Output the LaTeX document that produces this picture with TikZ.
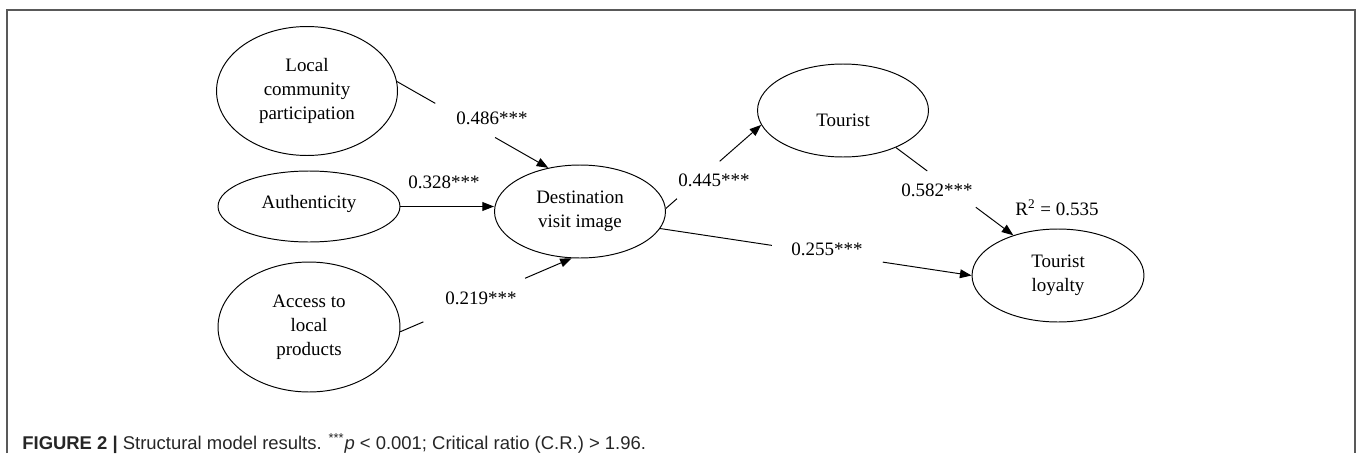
\documentclass[tikz,border=0pt]{standalone}
\usepackage{fontspec}
\setmainfont{Liberation Serif}
\newfontfamily\capfont{Liberation Sans}
\usepackage{tikz}
\usetikzlibrary{arrows.meta, shapes, positioning, calc}

\begin{document}
\begin{tikzpicture}[
    x=0.02cm, y=-0.02cm,
    every node/.style={font=\fontsize{10.8}{13.6}\selectfont},
    latent/.style={ellipse, draw, line width=0.55pt, inner sep=0pt, align=center},
    link/.style={line width=0.55pt},
    est/.style={link, -{Triangle[length=6.6pt, width=5pt]}},
    coef/.style={inner sep=0pt},
    frame/.style={draw=black!65, line width=0.85pt},
]
    \useasboundingbox (0,0) rectangle (1358,453);
    \draw[frame] (7,453) -- (7,10) -- (1355,10) -- (1355,453);

    % latent constructs
    \node[latent, minimum width=3.62cm, minimum height=2.58cm] (lcp) at (307,91) {Local\\community\\participation};
    \node[latent, minimum width=3.64cm, minimum height=1.42cm] (auth) at (309,206.5) {\raisebox{1.7pt}[\height][\depth]{Authenticity}};
    \node[latent, minimum width=3.64cm, minimum height=2.60cm] (access) at (309,327) {Access to\\local\\products};
    \node[latent, minimum width=3.42cm, minimum height=1.86cm] (dvi) at (580,211.5) {Destination\\visit image};
    \node[latent, minimum width=3.42cm, minimum height=1.86cm] (tour) at (843,110.5) {\raisebox{-5.4pt}[\height][\depth]{Tourist}};
    \node[latent, minimum width=3.44cm, minimum height=1.86cm] (loyal) at (1058,275.5) {Tourist\\loyalty};

    % paths, broken where the estimates sit
    \path (lcp.6) -- coordinate[pos=0.253] (lcp-a) coordinate[pos=0.648] (lcp-b) (dvi.126);
    \draw[link] (lcp.6) -- (lcp-a);
    \draw[est] (lcp-b) -- (dvi.126);

    \draw[est] (auth.east) -- (auth.east -| dvi.west);

    \path (access.-3) -- coordinate[pos=0.135] (acc-a) coordinate[pos=0.728] (acc-b) (dvi.260);
    \draw[link] (access.-3) -- (acc-a);
    \draw[est] (acc-b) -- (dvi.260);

    \path (dvi.2) -- coordinate[pos=0.117] (dvi-a) coordinate[pos=0.565] (dvi-b) (tour.190);
    \draw[link] (dvi.2) -- (dvi-a);
    \draw[est] (dvi-b) -- (tour.190);

    \path (tour.-35) -- coordinate[pos=0.267] (tour-a) coordinate[pos=0.681] (tour-b) (loyal.138);
    \draw[link] (tour.-35) -- (tour-a);
    \draw[est] (tour-b) -- (loyal.138);

    \path (dvi.-12) -- coordinate[pos=0.359] (dir-a) coordinate[pos=0.715] (dir-b) (loyal.180);
    \draw[link] (dvi.-12) -- (dir-a);
    \draw[est] (dir-b) -- (loyal.180);

    % estimates
    \node[coef] (b-lcp)  at (492,118) {0.486***};
    \node[coef] (b-auth) at (444,182) {0.328***};
    \node[coef] (b-acc)  at (481,298) {0.219***};
    \node[coef] (b-tour) at (714,180) {0.445***};
    \node[coef] (b-loy)  at (937,190) {0.582***};
    \node[coef] (b-dir)  at (827,249) {0.255***};
    \node[coef] (r2)     at (1057,208) {R\textsuperscript{2} = 0.535};

    \node[anchor=base west, inner sep=0pt, text=black!85,
          font=\capfont\fontsize{10.5}{13}\selectfont] (cap) at (22,449)
        {\textbf{FIGURE 2 |} Structural model results. \textsuperscript{***}\textit{p} < 0.001; Critical ratio (C.R.) > 1.96.};
\end{tikzpicture}
\end{document}
